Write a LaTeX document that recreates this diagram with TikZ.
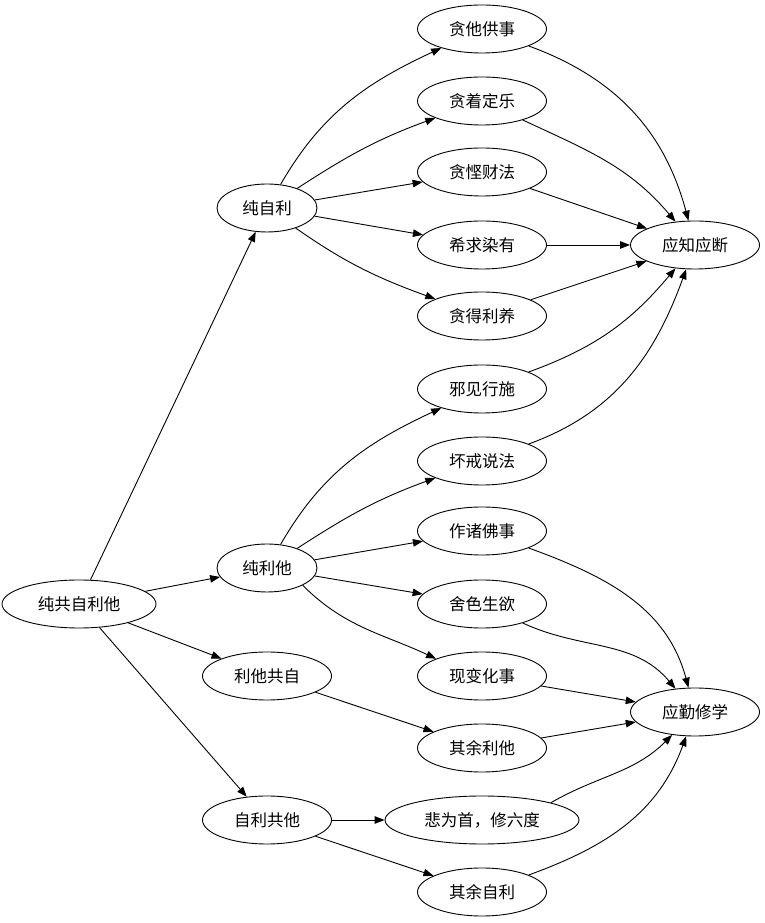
\documentclass[tikz,border=0pt]{standalone}
\usepackage{fontspec}
\newfontfamily\cjk{Noto Sans CJK SC}
\usetikzlibrary{arrows.meta, shapes.geometric}

\begin{document}
\begin{tikzpicture}[x=1pt, y=1pt,
    oval/.style={draw, ellipse, line width=0.9pt, inner sep=0pt, minimum height=48pt, minimum width=129pt, font=\cjk\fontsize{16.5}{19}\selectfont},
    narrow/.style={oval, minimum width=100pt},
    wide/.style={oval, minimum width=194pt},
    edge/.style={-{Triangle[length=10pt,width=7.5pt]}, line width=0.9pt}]
    \useasboundingbox (0,0) rectangle (765,923);

    \node[oval, minimum width=154pt] (root) at (79,319) {纯共自利他};

    \node[narrow] (czl) at (267,715) {纯自利};
    \node[narrow] (clt) at (267,355) {纯利他};
    \node[oval] (ltgz) at (267,247) {利他共自};
    \node[oval] (zlgt) at (267,103) {自利共他};

    \node[oval] (tsgs) at (482,894) {贪他供事};
    \node[oval] (tzdl) at (482,822) {贪着定乐};
    \node[oval] (tqcf) at (482,751) {贪悭财法};
    \node[oval] (xqry) at (482,678) {希求染有};
    \node[oval] (tdly) at (482,607) {贪得利养};
    \node[oval] (xjxs) at (482,534) {邪见行施};
    \node[oval] (hjsf) at (482,462) {坏戒说法};
    \node[oval] (zzfs) at (482,392) {作诸佛事};
    \node[oval] (ssss) at (482,319) {舍色生欲};
    \node[oval] (xbhs) at (482,247) {现变化事};
    \node[oval] (qylt) at (482,175) {其余利他};
    \node[wide] (bwsx) at (482,103) {悲为首，修六度};
    \node[oval] (qyzl) at (482,31) {其余自利};

    \node[oval] (yzyd) at (695,678) {应知应断};
    \node[oval] (yqxx) at (695,211) {应勤修学};

    \draw[edge] (root) -- (czl);
    \draw[edge] (root) -- (clt);
    \draw[edge] (root) -- (ltgz);
    \draw[edge] (root) -- (zlgt);

    \draw[edge] (czl) to[out=60, in=205] (tsgs);
    \draw[edge] (czl) to[out=33, in=200] (tzdl);
    \draw[edge] (czl) -- (tqcf);
    \draw[edge] (czl) -- (xqry);
    \draw[edge] (czl) to[out=-35, in=160] (tdly);

    \draw[edge] (clt) to[out=60, in=205] (xjxs);
    \draw[edge] (clt) to[out=33, in=200] (hjsf);
    \draw[edge] (clt) -- (zzfs);
    \draw[edge] (clt) -- (ssss);
    \draw[edge] (clt.south east) to[out=-45, in=155] (xbhs.north west);

    \draw[edge] (ltgz) -- (qylt);
    \draw[edge] (zlgt) -- (bwsx);
    \draw[edge] (zlgt) -- (qyzl);

    \draw[edge] (tsgs) to[out=-20, in=105] (yzyd);
    \draw[edge] (tzdl) to[out=-25, in=130] (yzyd);
    \draw[edge] (tqcf) -- (yzyd);
    \draw[edge] (xqry) -- (yzyd);
    \draw[edge] (tdly) -- (yzyd);
    \draw[edge] (xjxs) to[out=20, in=230] (yzyd);
    \draw[edge] (hjsf) to[out=20, in=250] (yzyd);

    \draw[edge] (zzfs) to[out=-20, in=105] (yqxx);
    \draw[edge] (ssss) to[out=-25, in=130] (yqxx);
    \draw[edge] (xbhs) -- (yqxx);
    \draw[edge] (qylt) -- (yqxx);
    \draw[edge] (bwsx.north east) to[out=30, in=225] (yqxx);
    \draw[edge] (qyzl) to[out=20, in=250] (yqxx);
\end{tikzpicture}
\end{document}
